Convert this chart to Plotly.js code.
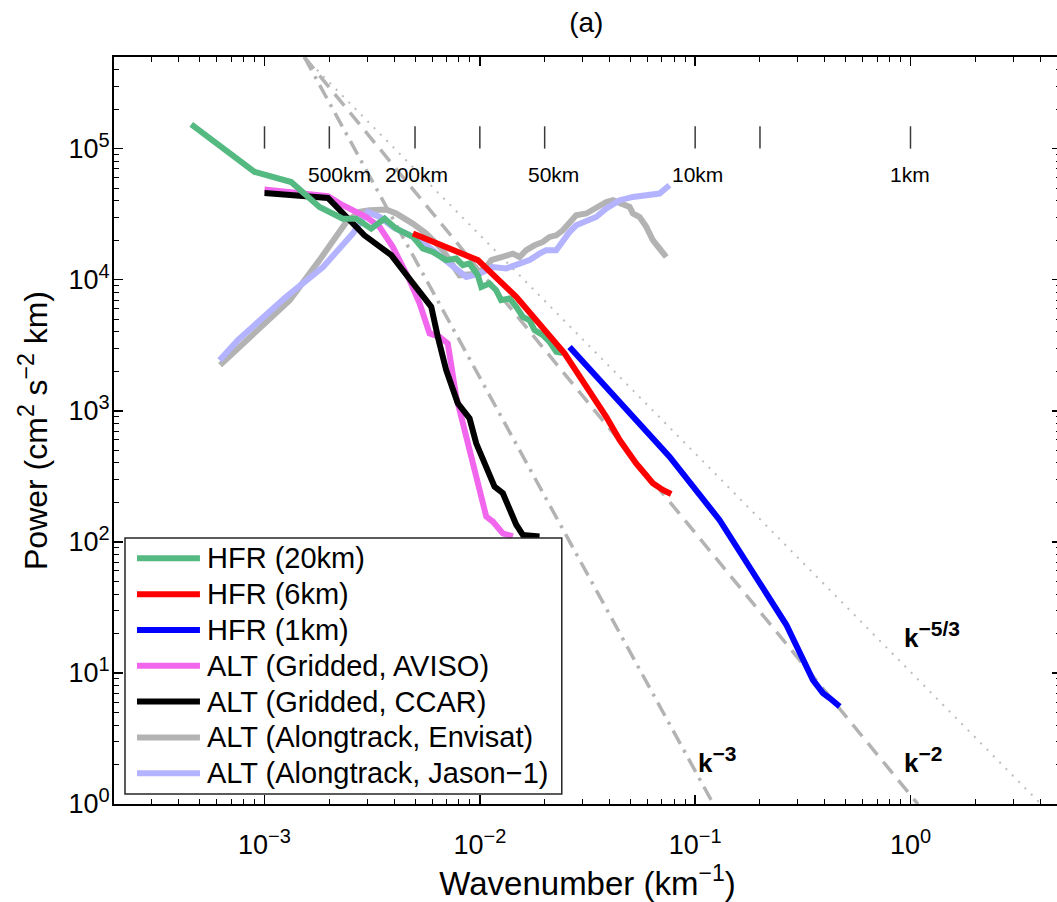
<!DOCTYPE html>
<html><head><meta charset="utf-8">
<script src="https://cdn.plot.ly/plotly-3.0.1.min.js"></script>
<style>html,body{margin:0;padding:0;overflow:hidden;background:#fff}#chart{width:1062px;height:902px}</style>
</head><body><div id="chart"></div>
<script>
// ---------------- data ----------------
const hfr20K = [4.57e-4, 9.0e-4, 1.33e-3, 1.80e-3, 2.31e-3, 2.67e-3, 3.13e-3, 3.61e-3, 4.09e-3, 4.89e-3, 5.43e-3, 6.05e-3, 6.98e-3, 7.76e-3, 8.34e-3, 8.95e-3, 9.79e-3, 1.016e-2, 1.109e-2, 1.191e-2, 1.256e-2, 1.374e-2, 1.476e-2, 1.585e-2, 1.702e-2, 1.795e-2, 1.963e-2, 2.109e-2, 2.265e-2, 2.427e-2];
const hfr20P = [1.53e5, 6.64e4, 5.56e4, 3.59e4, 2.92e4, 2.92e4, 2.45e4, 2.92e4, 2.45e4, 2.12e4, 1.73e4, 1.63e4, 1.41e4, 1.45e4, 1.29e4, 1.33e4, 1.08e4, 8.81e3, 9.35e3, 8.32e3, 6.98e3, 7.19e3, 6.21e3, 5.20e3, 4.91e3, 4.12e3, 3.78e3, 3.36e3, 2.82e3, 2.75e3];

const hfr6K = [4.89e-3, 9.79e-3, 1.476e-2, 2.473e-2, 3.864e-2, 4.46e-2, 5.32e-2, 6.36e-2, 7.08e-2, 7.74e-2];
const hfr6P = [2.25e4, 1.41e4, 7.40e3, 2.74e3, 900, 598, 397, 280, 249, 232];

const hfr1K = [2.61e-2, 7.60e-2, 0.1297, 0.2027, 0.238, 0.265, 0.352, 0.392, 0.421, 0.444, 0.469];
const hfr1P = [3.07e3, 446, 147, 45.6, 29.4, 23.3, 8.86, 7.02, 6.43, 6.05, 5.55];

const avisoK = [1.0e-3, 1.97e-3, 2.31e-3, 2.97e-3, 3.42e-3, 3.94e-3, 4.72e-3, 5.25e-3, 5.84e-3, 6.50e-3, 7.10e-3, 7.77e-3, 8.65e-3, 9.62e-3, 1.071e-2, 1.149e-2, 1.279e-2, 1.423e-2];
const avisoP = [4.87e4, 4.33e4, 3.70e4, 3.01e4, 2.53e4, 1.78e4, 9.91e3, 6.59e3, 3.89e3, 3.66e3, 3.26e3, 1.28e3, 634, 314, 156, 143, 116, 110];

const ccarK = [1.0e-3, 1.97e-3, 2.91e-3, 3.88e-3, 4.39e-3, 5.95e-3, 6.38e-3, 6.98e-3, 7.90e-3, 8.96e-3, 9.62e-3, 1.033e-2, 1.170e-2, 1.279e-2, 1.374e-2, 1.476e-2, 1.584e-2, 1.70e-2, 1.893e-2];
const ccarP = [4.59e4, 4.20e4, 2.18e4, 1.54e4, 1.18e4, 6.20e3, 3.66e3, 2.04e3, 1.14e3, 875, 564, 421, 264, 235, 175, 135, 113, 111, 110];

const envisatK = [6.22e-4, 8.22e-4, 1.31e-3, 1.80e-3, 2.40e-3, 2.76e-3, 3.07e-3, 3.67e-3, 4.09e-3, 4.88e-3, 5.64e-3, 6.73e-3, 8.05e-3, 9.62e-3, 1.071e-2, 1.130e-2, 1.279e-2, 1.423e-2, 1.529e-2, 1.642e-2, 1.795e-2, 1.962e-2, 2.107e-2, 2.264e-2, 2.429e-2, 2.563e-2, 2.80e-2, 3.12e-2, 3.47e-2, 3.87e-2, 4.15e-2, 4.61e-2, 4.96e-2, 5.14e-2, 5.52e-2, 5.93e-2, 6.36e-2, 6.83e-2, 7.34e-2];
const envisatP = [2.23e3, 3.46e3, 6.98e3, 1.41e4, 2.76e4, 3.29e4, 3.39e4, 3.43e4, 3.20e4, 2.68e4, 2.25e4, 1.68e4, 1.08e4, 1.11e4, 1.25e4, 1.41e4, 1.49e4, 1.58e4, 1.49e4, 1.68e4, 1.83e4, 1.94e4, 2.12e4, 2.18e4, 2.38e4, 2.60e4, 3.10e4, 3.20e4, 3.59e4, 3.92e4, 4.04e4, 3.81e4, 3.59e4, 3.20e4, 3.01e4, 2.53e4, 2.00e4, 1.73e4, 1.49e4];

const jasonK = [6.18e-4, 7.52e-4, 1.26e-3, 1.87e-3, 2.57e-3, 3.02e-3, 3.42e-3, 3.94e-3, 4.55e-3, 5.25e-3, 6.05e-3, 6.98e-3, 8.05e-3, 8.65e-3, 9.97e-3, 1.149e-2, 1.327e-2, 1.529e-2, 1.701e-2, 1.893e-2, 2.034e-2, 2.264e-2, 2.429e-2, 2.61e-2, 2.80e-2, 3.12e-2, 3.47e-2, 3.87e-2, 4.46e-2, 5.14e-2, 5.93e-2, 6.83e-2, 7.60e-2];
const jasonP = [2.43e3, 3.46e3, 7.40e3, 1.25e4, 2.25e4, 3.29e4, 3.01e4, 2.53e4, 2.25e4, 2.00e4, 1.68e4, 1.41e4, 1.18e4, 1.05e4, 1.11e4, 1.25e4, 1.22e4, 1.33e4, 1.41e4, 1.58e4, 1.68e4, 1.68e4, 2.00e4, 2.31e4, 2.60e4, 2.84e4, 3.01e4, 3.49e4, 4.04e4, 4.28e4, 4.41e4, 4.54e4, 5.25e4];

// reference slopes: end points (wavenumber, power)
const slope3K = [1.53e-3, 0.1214];   const slope3P = [5e5, 1];
const slope2K = [1.53e-3, 1.082];    const slope2P = [5e5, 1];
const slope53K = [1.53e-3, 4.03];    const slope53P = [5e5, 1];
const slopeLabels = ['k', 'k', 'k'];
const slopeExponents = ['−3', '−2', '−5/3'];
const slopeLabelK = [0.101, 0.916, 0.916];
const slopeLabelP = [1.52, 1.52, 13.6];

// wavelength scale
const scaleWavelengthKm = [1000, 500, 200, 100, 50, 10, 5, 1];
const scaleTickP = [1.0e5, 1.48e5];
const scaleLabels = ['500km', '200km', '50km', '10km', '1km'];
const scaleLabelK = [2.23e-3, 5.1e-3, 2.19e-2, 0.1026, 0.995];
const scaleLabelP = 6.37e4;

// axis ticks
const xTickVals = [1e-3, 1e-2, 1e-1, 1];
const xTickExp = ['−3', '−2', '−1', '0'];
const yTickVals = [1, 10, 100, 1e3, 1e4, 1e5];
const yTickExp = ['0', '1', '2', '3', '4', '5'];

const seriesNames = ['HFR (20km)', 'HFR (6km)', 'HFR (1km)', 'ALT (Gridded, AVISO)', 'ALT (Gridded, CCAR)', 'ALT (Alongtrack, Envisat)', 'ALT (Alongtrack, Jason−1)'];
const seriesColors = ['#55b982', '#ff0000', '#0000ff', '#f266ee', '#000000', '#b3b3b3', '#b3b3ff'];

// ---------------- layout geometry ----------------
const FONT = 'Liberation Sans, Arial, Helvetica, sans-serif';
const W = 1062, H = 902;
const M = {l: 114, r: 0.5, t: 57, b: 98};
const PW = W - M.l - M.r, PH = H - M.t - M.b;
const px2x = p => (p - M.l) / PW;
const py2y = p => (H - M.b - p) / PH;
const sup = (t, s) => '<sup><span style="font-size:' + s + 'px">' + t + '</span></sup>';

function minorVals(lo, hi) {
  const out = [];
  for (let d = lo; d <= hi; d++) for (let m = 2; m <= 9; m++) out.push(m * Math.pow(10, d));
  return out;
}

const lineW = 6;
function curve(k, p, i) {
  return {x: k, y: p, type: 'scatter', mode: 'lines', name: seriesNames[i], showlegend: false,
          line: {color: seriesColors[i], width: lineW, shape: 'linear'}, hoverinfo: 'skip'};
}
const refColor = '#b3b3b3';
const traces = [
  {x: slope3K, y: slope3P, mode: 'lines', type: 'scatter', showlegend: false, hoverinfo: 'skip', name: 'k^-3',
   line: {color: refColor, width: 3.5, dash: '15px,7px,3px,7px'}},
  {x: slope2K, y: slope2P, mode: 'lines', type: 'scatter', showlegend: false, hoverinfo: 'skip', name: 'k^-2',
   line: {color: refColor, width: 3.5, dash: '15px,9px'}},
  {x: slope53K, y: slope53P, mode: 'lines', type: 'scatter', showlegend: false, hoverinfo: 'skip', name: 'k^-5/3',
   line: {color: '#bdbdbd', width: 2, dash: '2px,7px'}},
  curve(envisatK, envisatP, 5),
  curve(jasonK, jasonP, 6),
  curve(avisoK, avisoP, 3),
  curve(ccarK, ccarP, 4),
  curve(hfr20K, hfr20P, 0),
  curve(hfr6K, hfr6P, 1),
  curve(hfr1K, hfr1P, 2)
];
// wavelength scale tick marks
const sx = [], sy = [];
scaleWavelengthKm.forEach(l => { sx.push(1 / l, 1 / l, null); sy.push(scaleTickP[0], scaleTickP[1], null); });
traces.push({x: sx, y: sy, mode: 'lines', type: 'scatter', showlegend: false, hoverinfo: 'skip', name: 'scale',
             line: {color: '#3a3a3a', width: 1.5}, connectgaps: false});

const annotations = [];
scaleLabels.forEach((t, i) => annotations.push({xref: 'x', yref: 'y', x: Math.log10(scaleLabelK[i]), y: Math.log10(scaleLabelP),
  text: t, showarrow: false, xanchor: 'center', yanchor: 'middle', font: {family: FONT, size: 21, color: '#000'}}));
slopeLabels.forEach((t, i) => annotations.push({xref: 'x', yref: 'y', x: Math.log10(slopeLabelK[i]), y: Math.log10(slopeLabelP[i]),
  text: '<b>' + t + sup(slopeExponents[i], 21) + '</b>', showarrow: false, xanchor: 'left', yanchor: 'bottom',
  font: {family: FONT, size: 26, color: '#000'}}));

// manual legend (box, samples, labels)
const shapes = [];
const legBox = {x0: 125, x1: 562, y0: 538, y1: 794};
shapes.push({type: 'rect', xref: 'paper', yref: 'paper', layer: 'above',
  x0: px2x(legBox.x0), x1: px2x(legBox.x1), y0: py2y(legBox.y1), y1: py2y(legBox.y0),
  fillcolor: '#ffffff', line: {color: '#262626', width: 1.5}});
const rowTop = 558.3, rowGap = 35.83;
seriesNames.forEach((n, i) => {
  const yy = py2y(rowTop + i * rowGap);
  shapes.push({type: 'line', xref: 'paper', yref: 'paper', layer: 'above',
    x0: px2x(137), x1: px2x(200), y0: yy, y1: yy, line: {color: seriesColors[i], width: 6}});
  annotations.push({xref: 'paper', yref: 'paper', x: px2x(205), y: yy, text: n, showarrow: false,
    xanchor: 'left', yanchor: 'middle', font: {family: FONT, size: 29, color: '#000'}});
});

const axisCommon = {
  type: 'log', showgrid: false, zeroline: false, showline: true, linecolor: '#000', linewidth: 2,
  mirror: 'ticks', ticks: 'inside', ticklen: 9, tickwidth: 1.5, tickcolor: '#000',
  tickfont: {family: FONT, size: 27, color: '#000'}, tickmode: 'array', automargin: false
};

const layout = {
  width: W, height: H, margin: M, paper_bgcolor: '#fff', plot_bgcolor: '#fff', showlegend: false,
  font: {family: FONT, color: '#000'},
  title: {text: '(a)', x: px2x(586.5) , xref: 'paper', y: 1 - 22 / H, yref: 'container', yanchor: 'middle', xanchor: 'center',
          font: {family: FONT, size: 28, color: '#000'}},
  xaxis: Object.assign({}, axisCommon, {
    range: [Math.log10(2e-4), Math.log10(5)], tickvals: xTickVals, ticktext: xTickExp.map(e => '10' + sup(e, 20)),
    ticklabelstandoff: 16,
    minor: {tickmode: 'array', tickvals: minorVals(-4, 0), ticks: 'inside', ticklen: 5, tickwidth: 1, tickcolor: '#000'},
    title: {text: 'Wavenumber (km' + sup('−1', 23) + ')', font: {family: FONT, size: 33, color: '#000'}, standoff: 7}
  }),
  yaxis: Object.assign({}, axisCommon, {
    range: [0, Math.log10(5e5)], tickvals: yTickVals, ticktext: yTickExp.map(e => '10' + sup(e, 20)),
    ticklabelstandoff: -3,
    minor: {tickmode: 'array', tickvals: minorVals(0, 5), ticks: 'inside', ticklen: 5, tickwidth: 1, tickcolor: '#000'},
    title: {text: 'Power (cm' + sup('2', 23) + ' s' + sup('−2', 23) + ' km)', font: {family: FONT, size: 32, color: '#000'}, standoff: 11}
  }),
  shapes: shapes,
  annotations: annotations
};

Plotly.newPlot('chart', traces, layout, {staticPlot: true, displayModeBar: false});
</script></body></html>
